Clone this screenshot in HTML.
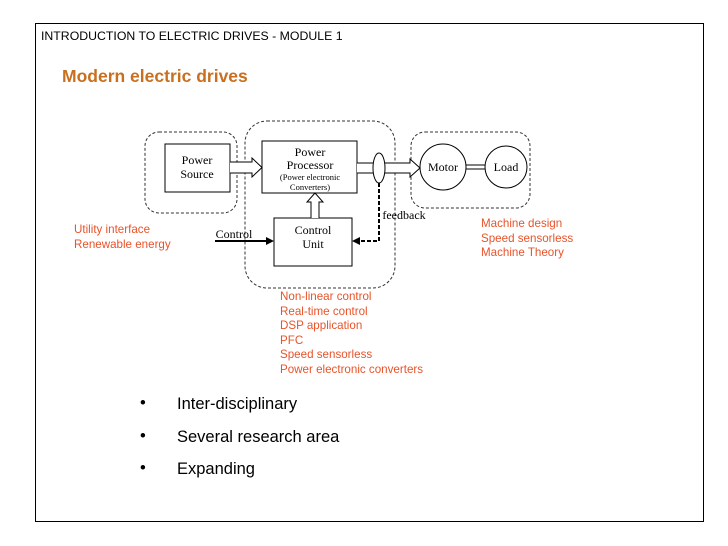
<!DOCTYPE html>
<html><head><style>
body{margin:0;width:728px;height:546px;background:#fff;position:relative;overflow:hidden;font-family:"Liberation Sans",sans-serif}
.t{position:absolute;white-space:nowrap}
.r{color:#e8532a;font-size:11.6px;line-height:14.5px}
.b{font-size:16.5px;color:#000}
</style></head><body>
<div style="position:absolute;left:35px;top:23px;width:667px;height:497px;border:1.5px solid #000"></div>
<div class="t" style="left:41px;top:29px;font-size:12.3px">INTRODUCTION TO ELECTRIC DRIVES - MODULE 1</div>
<div class="t" style="left:62px;top:66px;font-size:17.5px;font-weight:bold;color:#c8701f">Modern electric drives</div>
<svg style="position:absolute;left:0;top:0" width="728" height="546" font-family="Liberation Serif, serif" font-size="12">
<g fill="none" stroke="#333" stroke-dasharray="3,2" stroke-width="1">
<rect x="145" y="132" width="92" height="81" rx="14"/>
<rect x="245" y="121" width="150" height="167" rx="22"/>
<rect x="411" y="132" width="119" height="76" rx="14"/>
</g>
<g fill="#fff" stroke="#000" stroke-width="1">
<rect x="165" y="144" width="65" height="48"/>
<rect x="262" y="141" width="95" height="52"/>
<rect x="274" y="218" width="78" height="48"/>
<circle cx="443" cy="167" r="23"/>
<circle cx="506" cy="167" r="21"/>
<path d="M230 162H252V158L262 167.5 252 177V173H230"/>
<path d="M357 163H410V159L420 168 410 177V173H357"/>
<path d="M311 218V202H307L315 193 323 202H319V218"/>
<line x1="466" y1="165" x2="485" y2="165"/><line x1="466" y1="169" x2="485" y2="169"/>
<ellipse cx="379" cy="168" rx="6" ry="15"/>
</g>
<path d="M379 183V241H358" fill="none" stroke="#000" stroke-width="2" stroke-dasharray="4,2"/>
<path d="M352 241L360 237V245Z"/>
<path d="M215 241H268" stroke="#000" stroke-width="2"/>
<path d="M274 241L266 237V245Z"/>
<g text-anchor="middle" fill="#000">
<text x="197" y="164">Power</text><text x="197" y="178">Source</text>
<text x="310" y="156">Power</text><text x="310" y="169">Processor</text>
<text x="310" y="180" font-size="8.5">(Power electronic</text><text x="310" y="190" font-size="8.5">Converters)</text>
<text x="313" y="234">Control</text><text x="313" y="248">Unit</text>
<text x="443" y="171">Motor</text><text x="506" y="171">Load</text>
<text x="234" y="238">Control</text>
<text x="404" y="219">feedback</text>
</g>
</svg>
<div class="t r" style="left:74px;top:223px">Utility interface<br>Renewable energy</div>
<div class="t r" style="left:481px;top:217px">Machine design<br>Speed sensorless<br>Machine Theory</div>
<div class="t r" style="left:280px;top:290px">Non-linear control<br>Real-time control<br>DSP application<br>PFC<br>Speed sensorless<br>Power electronic converters</div>
<div class="t b" style="left:140px;top:394px">•</div><div class="t b" style="left:177px;top:395px">Inter-disciplinary</div>
<div class="t b" style="left:140px;top:427px">•</div><div class="t b" style="left:177px;top:428px">Several research area</div>
<div class="t b" style="left:140px;top:459px">•</div><div class="t b" style="left:177px;top:460px">Expanding</div>
</body></html>
